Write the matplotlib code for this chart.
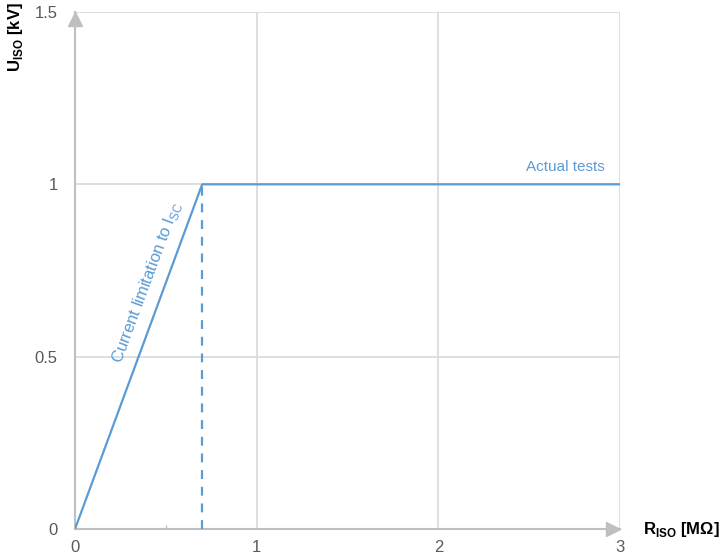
import matplotlib.pyplot as plt
from matplotlib.transforms import offset_copy

# === Data ===
r_iso = [0, 0.7, 3]          # MOhm
u_iso = [0, 1, 1]            # kV
knee_r = 0.7
knee_u = 1
x_ticks = [0, 1, 2, 3]
y_ticks = [0, 0.5, 1, 1.5]

# === Styling ===
plt.rcParams.update({
    "font.family": ["Liberation Sans", "DejaVu Sans"],
    "font.size": 11,
})
blue = "#5b9bd5"
grid_c = "#d9d9d9"
axis_c = "#bfbfbf"
label_c = "#595959"

fig = plt.figure(figsize=(7.22, 5.6), dpi=100)
ax = fig.add_axes([0.1039, 0.0554, 0.7548, 0.9232])

ax.plot(r_iso, u_iso, color=blue, lw=1.6, zorder=3)
ax.plot([knee_r, knee_r], [0, knee_u], color=blue, lw=1.6, ls=(0, (4, 3.5)), zorder=3)

ax.set_xlim(0, 3)
ax.set_ylim(0, 1.5)
ax.set_xticks(x_ticks)
ax.set_xticklabels([str(v) for v in x_ticks])
ax.set_yticks(y_ticks)
ax.set_yticklabels(["0", "0.5", "1", "1.5"])
ax.set_xticks([0.5], minor=True)
ax.tick_params(axis="both", which="major", length=0, colors=label_c, labelsize=12)
ax.tick_params(axis="x", which="major", pad=8)
ax.tick_params(axis="y", which="major", pad=12.5)
ax.tick_params(axis="x", which="minor", direction="in", length=3, color=axis_c, width=1)
ax.grid(True, color=grid_c, lw=1.2, zorder=0)

for s in ["top", "right"]:
    ax.spines[s].set_visible(False)
for s in ["left", "bottom"]:
    ax.spines[s].set_color(axis_c)
    ax.spines[s].set_linewidth(1.5)

# axis arrows, tips at the axis ends
up_tr = offset_copy(ax.transData, fig=fig, x=0, y=-5, units="points")
right_tr = offset_copy(ax.transData, fig=fig, x=-5, y=0, units="points")
ax.plot(0, 1.5, marker="^", color=axis_c, ms=10, clip_on=False, zorder=4, transform=up_tr)
ax.plot(3, 0, marker=">", color=axis_c, ms=10, clip_on=False, zorder=4, transform=right_tr)

# annotations
ax.text(0.395, 0.715, r"Current limitation to I$_{\mathregular{SC}}$", color=blue,
        fontsize=12, rotation=69.6, ha="center", va="center",
        rotation_mode="anchor")
ax.text(2.70, 1.03, "Actual tests", color=blue, fontsize=11, ha="center", va="bottom")

# axis labels
fig.text(0.022, 0.934, r"U$_{\mathregular{ISO}}$ [kV]", rotation=90, fontsize=12,
         fontweight="bold", ha="center", va="center")
fig.text(0.943, 0.054, r"R$_{\mathregular{ISO}}$ [MΩ]", fontsize=12,
         fontweight="bold", ha="center", va="center")

fig.savefig("out.png", dpi=100)
